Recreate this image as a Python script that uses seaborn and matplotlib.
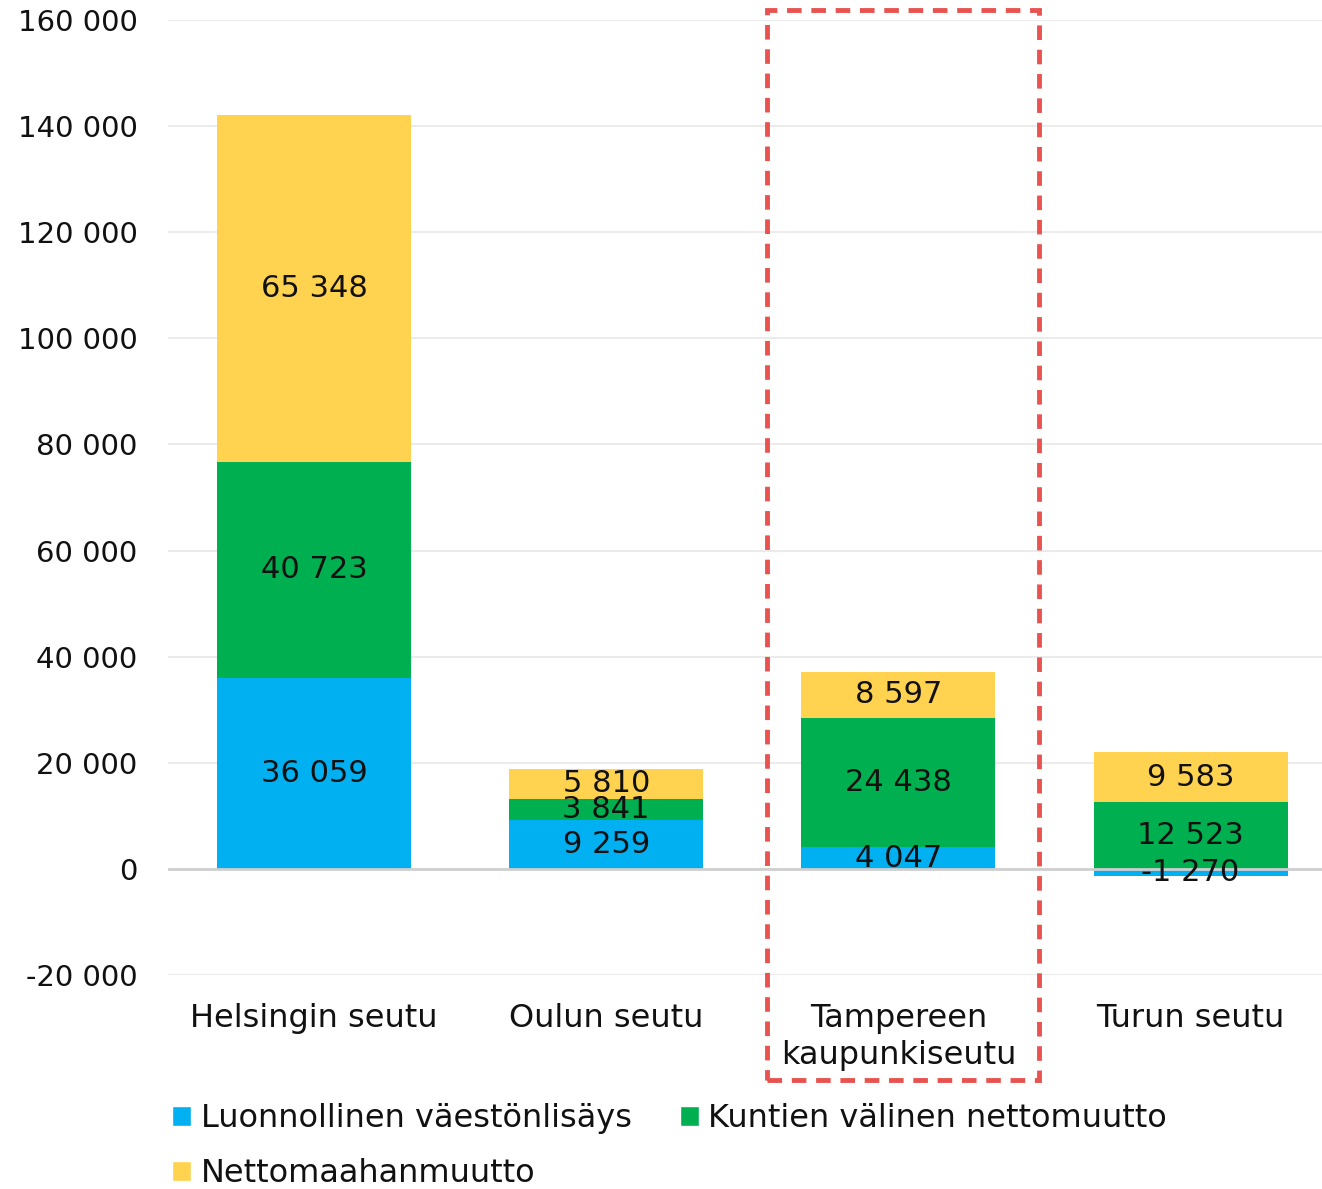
import matplotlib
matplotlib.use("Agg")
import matplotlib.pyplot as plt
from matplotlib.patches import Patch, Rectangle
from matplotlib.ticker import FuncFormatter
import seaborn as sns
import pandas as pd
import numpy as np

# Population change components by urban region
regions = ["Helsingin seutu", "Oulun seutu", "Tampereen\nkaupunkiseutu", "Turun seutu"]
natural_increase = [36059, 9259, 4047, -1270]
internal_migration = [40723, 3841, 24438, 12523]
net_immigration = [65348, 5810, 8597, 9583]

series_names = ["Luonnollinen väestönlisäys", "Kuntien välinen nettomuutto", "Nettomaahanmuutto"]
colors = ["#00B0F0", "#00B050", "#FFD24F"]

df = pd.DataFrame({
    "region": regions,
    series_names[0]: natural_increase,
    series_names[1]: internal_migration,
    series_names[2]: net_immigration,
})


def fmt_num(v):
    s = f"{abs(int(round(v))):,}".replace(",", " ")
    return ("-" if v < 0 else "") + s


sns.set_theme(style="white")
plt.rcParams["font.family"] = ["DejaVu Sans"]
plt.rcParams["text.color"] = "#111111"

fig = plt.figure(figsize=(13.22, 11.89), dpi=100)
ax = fig.add_axes([168 / 1322, 1 - 975 / 1189, (1322 - 168) / 1322, (975 - 20) / 1189])

# Positive parts stack upward from zero, negative parts hang below zero
pos_base = np.zeros(len(regions))
neg_base = np.zeros(len(regions))
for name, color in zip(series_names, colors):
    vals = df[name].to_numpy(dtype=float)
    bottoms = np.where(vals >= 0, pos_base, neg_base)
    sns.barplot(data=df, x="region", y=name, color=color, bottom=bottoms,
                width=0.664, saturation=1, ax=ax, zorder=2, linewidth=0)
    cont = ax.containers[-1]
    ax.bar_label(cont, labels=[fmt_num(v) for v in vals], label_type="center",
                 fontsize=22, color="#111111", zorder=4)
    pos_base = pos_base + np.where(vals >= 0, vals, 0)
    neg_base = neg_base + np.where(vals < 0, vals, 0)

ax.set_ylim(-20000, 160000)
ax.set_xlim(-0.5, 3.45)
ax.set_yticks(np.arange(-20000, 160001, 20000))
ax.yaxis.set_major_formatter(FuncFormatter(lambda v, p: fmt_num(v)))
ax.set_xlabel("")
ax.set_ylabel("")
ax.tick_params(axis="y", length=0, labelsize=21, colors="#111111", pad=22)
ax.tick_params(axis="x", length=0, labelsize=23, colors="#111111", pad=20)
for lbl in ax.get_xticklabels():
    lbl.set_linespacing(1.25)
for sp in ax.spines.values():
    sp.set_visible(False)
ax.grid(axis="y", color="#EBEBEB", linewidth=1.5, zorder=0)
ax.grid(axis="x", visible=False)
ax.axhline(0, color="#CFCFCF", linewidth=2, zorder=3)

# Dashed highlight around the Tampere region column
fig.patches.append(Rectangle((767 / 1322, 1 - 1080 / 1189), (1039 - 767) / 1322, (1080 - 10) / 1189,
                             transform=fig.transFigure, fill=False, edgecolor="#E8534F",
                             linewidth=3.5, linestyle=(0, (3, 2)), zorder=10))

handles = [Patch(facecolor=colors[0]), Patch(facecolor=colors[2]), Patch(facecolor=colors[1])]
labels = [series_names[0], series_names[2], series_names[1]]
fig.legend(handles, labels, ncol=2, loc="upper left", bbox_to_anchor=(172 / 1322, 1 - 1103 / 1189),
           frameon=False, fontsize=23, handlelength=0.6, handleheight=0.6, handletextpad=0.3,
           columnspacing=1.5, labelspacing=0.75, borderaxespad=0, borderpad=0)

fig.savefig("out.png", dpi=100)
